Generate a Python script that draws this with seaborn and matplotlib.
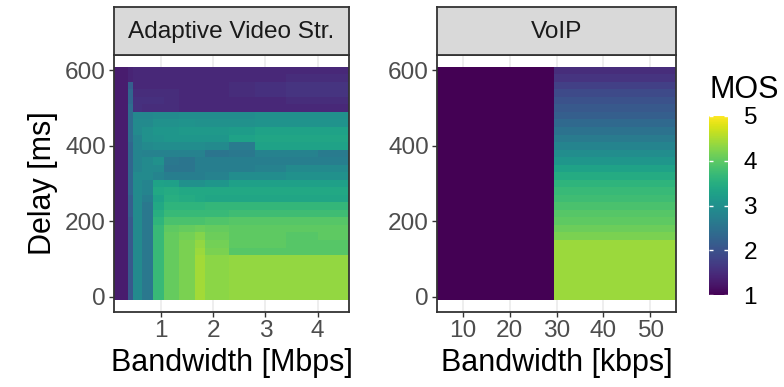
import numpy as np
import pandas as pd
import matplotlib
matplotlib.use("Agg")
import matplotlib.pyplot as plt
import seaborn as sns
from matplotlib.colors import Normalize
from matplotlib.cm import ScalarMappable

# ---------------- data ----------------
services = ["Adaptive Video Str.", "VoIP"]
x_titles = ["Bandwidth [Mbps]", "Bandwidth [kbps]"]
y_title = "Delay [ms]"
legend_title = "MOS"

delays = [0, 20, 40, 60, 80, 100, 120, 140, 160, 180, 200, 220, 240, 260, 280,
          300, 320, 340, 360, 380, 400, 420, 440, 460, 480, 500, 520, 540, 560,
          580, 600]

# bandwidth bins (Mbps) of the video panel
video_bw_edges = [0.10, 0.36, 0.46, 0.63, 0.85, 1.05, 1.35, 1.65, 1.85, 2.30,
                  2.80, 3.40, 4.00, 4.60]

# MOS of the video panel, one row per delay (0 ms ... 600 ms)
video_mos = [
    [1.3, 2.1, 2.9, 2.6, 3.7, 4.05, 4.2, 4.45, 4.3, 4.35, 4.35, 4.35, 4.35],
    [1.3, 2.1, 2.9, 2.6, 3.7, 4.05, 4.2, 4.45, 4.3, 4.35, 4.35, 4.35, 4.35],
    [1.3, 2.1, 2.9, 2.6, 3.7, 4.05, 4.2, 4.45, 4.3, 4.35, 4.35, 4.35, 4.35],
    [1.3, 2.1, 2.9, 2.6, 3.7, 4.05, 4.2, 4.45, 4.3, 4.35, 4.35, 4.35, 4.35],
    [1.3, 2.1, 2.9, 2.6, 3.7, 4.05, 4.2, 4.45, 4.3, 4.35, 4.35, 4.35, 4.35],
    [1.3, 2.1, 2.9, 2.6, 3.7, 4.05, 4.2, 4.45, 4.3, 4.35, 4.35, 4.35, 4.35],
    [1.3, 2.1, 2.9, 2.6, 3.7, 4.05, 4.2, 4.4, 4.2, 3.95, 3.95, 3.95, 3.95],
    [1.3, 2.1, 2.9, 2.6, 3.7, 4.05, 4.2, 4.35, 4.15, 4.0, 4.0, 3.95, 3.95],
    [1.3, 2.1, 2.9, 2.6, 3.7, 4.05, 4.15, 4.25, 4.1, 4.0, 4.0, 3.95, 4.0],
    [1.3, 2.1, 2.9, 2.6, 3.7, 4.0, 4.05, 4.1, 4.05, 4.0, 4.0, 4.0, 4.0],
    [1.3, 2.1, 2.9, 2.6, 3.6, 3.85, 3.85, 3.85, 3.9, 3.95, 3.95, 3.95, 3.95],
    [1.3, 2.2, 2.9, 2.6, 3.5, 3.7, 3.7, 3.7, 3.7, 3.75, 3.75, 3.75, 3.75],
    [1.3, 2.2, 2.9, 2.6, 3.4, 3.6, 3.6, 3.6, 3.65, 3.65, 3.65, 3.65, 3.65],
    [1.3, 2.2, 2.9, 2.7, 3.3, 3.5, 3.45, 3.4, 3.35, 3.35, 3.35, 3.35, 3.35],
    [1.3, 2.3, 2.9, 2.8, 3.4, 3.45, 3.4, 3.4, 3.4, 3.4, 3.4, 3.4, 3.4],
    [1.3, 2.3, 2.9, 2.8, 3.3, 3.25, 3.0, 3.0, 3.1, 3.25, 3.25, 3.25, 3.25],
    [1.3, 2.3, 2.9, 2.9, 2.8, 2.7, 2.7, 2.7, 2.75, 2.95, 2.95, 3.0, 3.0],
    [1.3, 2.3, 2.8, 2.9, 2.9, 2.55, 2.55, 2.7, 2.7, 2.7, 2.75, 2.9, 2.9],
    [1.3, 2.3, 2.8, 2.9, 3.0, 2.6, 2.55, 2.7, 2.7, 2.7, 2.7, 2.7, 2.7],
    [1.3, 2.3, 2.8, 2.75, 2.75, 2.75, 2.75, 2.75, 2.55, 2.6, 2.75, 2.75, 2.65],
    [1.3, 2.3, 2.8, 2.9, 2.95, 2.95, 2.95, 2.95, 2.9, 2.65, 3.3, 3.3, 3.3],
    [1.3, 2.4, 2.8, 3.0, 3.05, 3.1, 3.1, 3.1, 3.1, 3.3, 3.35, 3.35, 3.35],
    [1.3, 2.4, 2.9, 3.0, 3.1, 3.1, 3.15, 3.15, 3.15, 3.2, 3.3, 3.3, 3.3],
    [1.3, 2.4, 2.9, 2.9, 3.0, 3.0, 3.05, 3.0, 3.0, 3.0, 3.05, 3.05, 3.05],
    [1.3, 2.4, 2.85, 2.85, 2.9, 2.9, 2.95, 2.95, 2.95, 2.95, 3.0, 3.0, 3.0],
    [1.3, 2.4, 1.55, 1.5, 1.5, 1.5, 1.45, 1.45, 1.45, 1.45, 1.45, 1.45, 1.45],
    [1.3, 2.3, 1.55, 1.55, 1.55, 1.5, 1.45, 1.45, 1.45, 1.45, 1.45, 1.5, 1.5],
    [1.3, 2.3, 1.5, 1.5, 1.5, 1.5, 1.45, 1.45, 1.45, 1.5, 1.55, 1.6, 1.6],
    [1.3, 2.2, 1.45, 1.45, 1.45, 1.45, 1.45, 1.45, 1.45, 1.5, 1.55, 1.6, 1.6],
    [1.3, 1.4, 1.45, 1.45, 1.45, 1.45, 1.45, 1.45, 1.45, 1.45, 1.45, 1.5, 1.5],
    [1.3, 1.4, 1.45, 1.45, 1.45, 1.45, 1.45, 1.45, 1.45, 1.45, 1.45, 1.45, 1.45],
]

# bandwidth bins (kbps) of the VoIP panel
voip_bw_edges = [4.5, 29.5, 55.5]
voip_mos_below_30 = [1.0, 1.0, 1.0, 1.0, 1.0, 1.0, 1.0, 1.0, 1.0, 1.0, 1.0,
                     1.0, 1.0, 1.0, 1.0, 1.0, 1.0, 1.0, 1.0, 1.0, 1.0, 1.0,
                     1.0, 1.0, 1.0, 1.0, 1.0, 1.0, 1.0, 1.0, 1.0]
voip_mos_30_up = [4.4, 4.4, 4.4, 4.4, 4.4, 4.4, 4.4, 4.4, 4.2, 4.1, 4.0,
                  3.95, 3.85, 3.75, 3.7, 3.6, 3.45, 3.3, 3.1, 2.95, 2.8,
                  2.65, 2.5, 2.35, 2.2, 2.1, 2.0, 1.9, 1.75, 1.6, 1.5]

x_ticks = [[1, 2, 3, 4], [10, 20, 30, 40, 50]]
y_ticks = [0, 200, 400, 600]
mos_ticks = [1, 2, 3, 4, 5]

# ---------------- long table ----------------
records = []
for i, d in enumerate(delays):
    for j, m in enumerate(video_mos[i]):
        records.append({"service": services[0], "delay": d, "col": j, "mos": m})
    records.append({"service": services[1], "delay": d, "col": 0, "mos": voip_mos_below_30[i]})
    records.append({"service": services[1], "delay": d, "col": 1, "mos": voip_mos_30_up[i]})
df = pd.DataFrame(records)
bw_edges = {services[0]: video_bw_edges, services[1]: voip_bw_edges}

sns.set_theme(style="white")
plt.rcParams["font.family"] = ["Liberation Sans", "DejaVu Sans"]

cmap = sns.color_palette("viridis", as_cmap=True)
norm = Normalize(vmin=1, vmax=5)
step = delays[1] - delays[0]
delay_edges = [d - step / 2 for d in delays] + [delays[-1] + step / 2]


def draw_tiles(data, **kws):
    ax = plt.gca()
    svc = data["service"].iloc[0]
    grid = data.pivot(index="delay", columns="col", values="mos").sort_index()
    ax.pcolormesh(bw_edges[svc], delay_edges, grid.values, cmap=cmap, norm=norm,
                  shading="flat", antialiased=False, edgecolors="none", zorder=2)


g = sns.FacetGrid(df, col="service", col_order=services, sharex=False,
                  sharey=False, height=3.87, aspect=1.0, despine=False)
g.map_dataframe(draw_tiles)
fig = g.figure
fig.set_size_inches(7.84, 3.87)
fig.set_dpi(100)

W, H = 784.0, 387.0
panel_px = [(114, 349), (437, 676)]
top_px, bot_px, strip_top = 55, 312, 7
dark = "#333333"

for k, ax in enumerate(g.axes.flat):
    l, r = panel_px[k]
    ax.set_position([l / W, 1 - bot_px / H, (r - l) / W, (bot_px - top_px) / H])
    ax.set_title("")
    xe = bw_edges[services[k]]
    ax.set_xlim(xe[0], xe[-1])
    span = delay_edges[-1] - delay_edges[0]
    ax.set_ylim(delay_edges[0] - 0.05 * span, delay_edges[-1] + 0.05 * span)
    ax.set_xticks(x_ticks[k])
    ax.set_yticks(y_ticks)
    ax.set_xlabel(x_titles[k], fontsize=22, color="black", labelpad=4)
    ax.set_ylabel(y_title if k == 0 else "", fontsize=22, color="black", labelpad=5)
    ax.set_facecolor("white")
    ax.grid(True, axis="x", color="#EBEBEB", lw=1.2)
    ax.grid(False, axis="y")
    ax.set_axisbelow(True)
    ax.tick_params(axis="both", which="major", length=3.6, width=1.0, color=dark,
                   labelsize=17.6, labelcolor="#4D4D4D", pad=2.2,
                   direction="out", bottom=True, left=True)
    for sp in ax.spines.values():
        sp.set_color(dark)
        sp.set_linewidth(1.3)
        sp.set_zorder(5)

    sax = fig.add_axes([l / W, 1 - top_px / H, (r - l) / W, (top_px - strip_top) / H])
    sax.set_facecolor("#D9D9D9")
    sax.set_xticks([])
    sax.set_yticks([])
    for sp in sax.spines.values():
        sp.set_color(dark)
        sp.set_linewidth(1.3)
    sax.text(0.5, 0.47, services[k], ha="center", va="center", fontsize=17.6,
             color="#1A1A1A", transform=sax.transAxes)

# colour bar legend
cax = fig.add_axes([709 / W, 1 - 295 / H, 19 / W, 179 / H])
sm = ScalarMappable(norm=norm, cmap=cmap)
cb = fig.colorbar(sm, cax=cax, ticks=mos_ticks)
cb.outline.set_visible(False)
cax.tick_params(length=0, labelsize=17.6, labelcolor="black", pad=11)
cax.hlines(mos_ticks, 0, 0.2, colors="white", lw=1.0)
cax.hlines(mos_ticks, 0.8, 1.0, colors="white", lw=1.0)
fig.text(709 / W, 1 - 98 / H, legend_title, fontsize=22, ha="left",
         va="baseline", color="black")

fig.savefig("out.png", dpi=100, facecolor="white")
